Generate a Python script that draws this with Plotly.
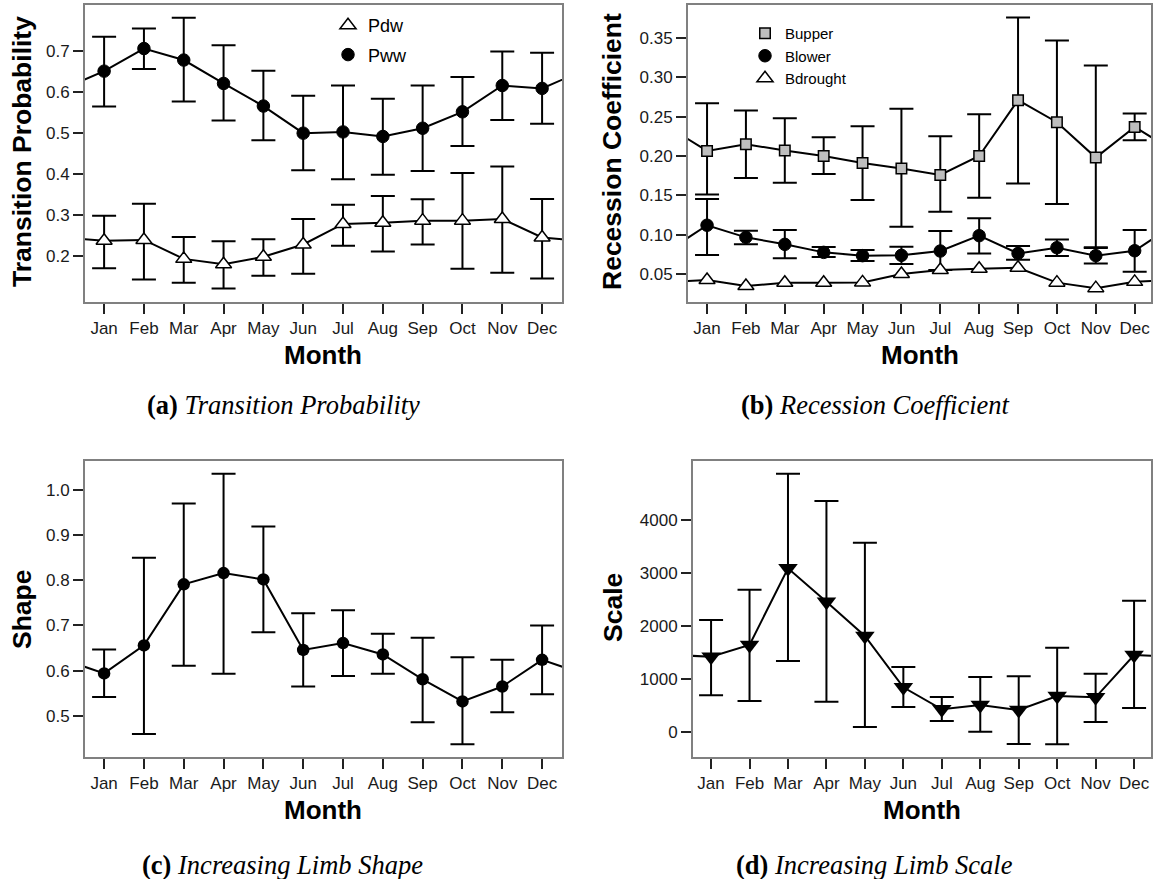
import plotly.graph_objects as go

W, H = 1155, 879

months = ["Jan", "Feb", "Mar", "Apr", "May", "Jun", "Jul", "Aug", "Sep", "Oct", "Nov", "Dec"]
month_num = list(range(1, 13))

# (a) Transition probability
pww = [0.650, 0.705, 0.677, 0.620, 0.565, 0.499, 0.502, 0.491, 0.511, 0.551, 0.615, 0.608]
pww_hi = [0.734, 0.754, 0.780, 0.713, 0.651, 0.590, 0.615, 0.583, 0.615, 0.636, 0.698, 0.695]
pww_lo = [0.564, 0.655, 0.576, 0.530, 0.482, 0.409, 0.387, 0.398, 0.407, 0.468, 0.531, 0.522]
pdw = [0.237, 0.239, 0.193, 0.180, 0.198, 0.228, 0.278, 0.281, 0.286, 0.286, 0.290, 0.245]
pdw_hi = [0.298, 0.327, 0.246, 0.236, 0.241, 0.290, 0.325, 0.346, 0.338, 0.402, 0.418, 0.339]
pdw_lo = [0.170, 0.143, 0.135, 0.121, 0.152, 0.157, 0.225, 0.211, 0.228, 0.169, 0.159, 0.145]

# (b) Recession coefficient
bupper = [0.2065, 0.215, 0.207, 0.200, 0.191, 0.184, 0.176, 0.200, 0.271, 0.243, 0.198, 0.237]
bupper_hi = [0.267, 0.258, 0.248, 0.224, 0.238, 0.260, 0.225, 0.253, 0.376, 0.347, 0.315, 0.254]
bupper_lo = [0.151, 0.172, 0.166, 0.177, 0.144, 0.110, 0.129, 0.147, 0.165, 0.139, 0.084, 0.220]
blower = [0.112, 0.0966, 0.0877, 0.0775, 0.0733, 0.0737, 0.0792, 0.0987, 0.0762, 0.0834, 0.0733, 0.0796]
blower_hi = [0.1454, 0.105, 0.106, 0.0843, 0.0805, 0.0847, 0.1047, 0.121, 0.0856, 0.094, 0.083, 0.106]
blower_lo = [0.074, 0.0877, 0.070, 0.0716, 0.0665, 0.0627, 0.055, 0.0762, 0.0681, 0.0729, 0.0635, 0.0529]
bdrought = [0.0423, 0.0347, 0.0389, 0.0389, 0.0393, 0.050, 0.055, 0.0567, 0.058, 0.039, 0.032, 0.040]

# (c) Increasing limb shape
shape = [0.594, 0.656, 0.791, 0.816, 0.802, 0.646, 0.661, 0.636, 0.581, 0.532, 0.565, 0.624]
shape_hi = [0.647, 0.850, 0.970, 1.036, 0.919, 0.727, 0.734, 0.682, 0.673, 0.630, 0.624, 0.700]
shape_lo = [0.542, 0.460, 0.611, 0.593, 0.685, 0.565, 0.588, 0.593, 0.486, 0.437, 0.508, 0.548]

# (d) Increasing limb scale
scale = [1421, 1642, 3088, 2459, 1811, 843, 428, 509, 415, 679, 654, 1453]
scale_hi = [2113, 2686, 4874, 4358, 3572, 1226, 660, 1038, 1050, 1591, 1100, 2478]
scale_lo = [692, 585, 1340, 572, 94, 472, 208, 6, -226, -233, 189, 453]

FONT = "Liberation Sans, Arial, Helvetica, sans-serif"
SERIF = "Liberation Serif, Times New Roman, serif"


def wrap_x():
    return [0] + month_num + [13]


def wrap_y(v):
    return [v[-1]] + list(v) + [v[0]]


def err(v, hi, lo):
    return dict(type="data", symmetric=False,
                array=[h - c for h, c in zip(hi, v)],
                arrayminus=[c - l for c, l in zip(v, lo)],
                color="black", thickness=2, width=12)


fig = go.Figure()

line_style = dict(color="black", width=2)


def add_line(v, xa, ya):
    fig.add_trace(go.Scatter(x=wrap_x(), y=wrap_y(v), mode="lines", line=line_style,
                             showlegend=False, hoverinfo="skip", xaxis=xa, yaxis=ya))


# Panel a
add_line(pww, "x", "y")
add_line(pdw, "x", "y")
fig.add_trace(go.Scatter(x=month_num, y=pdw, mode="markers", name="Pdw",
                         error_y=err(pdw, pdw_hi, pdw_lo),
                         marker=dict(symbol="triangle-up", size=14, color="white",
                                     line=dict(color="black", width=1.5)),
                         xaxis="x", yaxis="y", legend="legend", legendgroup="a1"))
fig.add_trace(go.Scatter(x=month_num, y=pww, mode="markers", name="Pww",
                         error_y=err(pww, pww_hi, pww_lo),
                         marker=dict(symbol="circle", size=12.5, color="black",
                                     line=dict(color="black", width=1)),
                         xaxis="x", yaxis="y", legend="legend", legendgroup="a2"))

# Panel b
add_line(bupper, "x2", "y2")
add_line(blower, "x2", "y2")
add_line(bdrought, "x2", "y2")
fig.add_trace(go.Scatter(x=month_num, y=bupper, mode="markers", name="Bupper",
                         error_y=err(bupper, bupper_hi, bupper_lo),
                         marker=dict(symbol="square", size=10.5, color="#bebebe",
                                     line=dict(color="black", width=1.5)),
                         xaxis="x2", yaxis="y2", legend="legend2"))
fig.add_trace(go.Scatter(x=month_num, y=blower, mode="markers", name="Blower",
                         error_y=err(blower, blower_hi, blower_lo),
                         marker=dict(symbol="circle", size=12.5, color="black",
                                     line=dict(color="black", width=1)),
                         xaxis="x2", yaxis="y2", legend="legend2"))
fig.add_trace(go.Scatter(x=month_num, y=bdrought, mode="markers", name="Bdrought",
                         marker=dict(symbol="triangle-up", size=14, color="white",
                                     line=dict(color="black", width=1.5)),
                         xaxis="x2", yaxis="y2", legend="legend2"))

# Panel c
add_line(shape, "x3", "y3")
fig.add_trace(go.Scatter(x=month_num, y=shape, mode="markers", showlegend=False,
                         error_y=err(shape, shape_hi, shape_lo),
                         marker=dict(symbol="circle", size=12.5, color="black"),
                         xaxis="x3", yaxis="y3"))

# Panel d
add_line(scale, "x4", "y4")
fig.add_trace(go.Scatter(x=month_num, y=scale, mode="markers", showlegend=False,
                         error_y=err(scale, scale_hi, scale_lo),
                         marker=dict(symbol="triangle-down", size=17, color="black"),
                         xaxis="x4", yaxis="y4"))


def px_x(p):
    return p / W


def px_y(p):
    return 1 - p / H


ax_common = dict(showline=True, linecolor="#808080", linewidth=2, mirror=True,
                 ticks="outside", ticklen=10, tickwidth=1.5, tickcolor="#222222",
                 showgrid=False, zeroline=False,
                 tickfont=dict(family=FONT, size=17, color="#1a1a1a"))

xcommon = dict(ax_common, tickmode="array", tickvals=month_num, ticktext=months)

top = [px_y(302), px_y(5)]
bot = [px_y(757), px_y(461)]

fig.update_layout(
    width=W, height=H, margin=dict(l=0, r=0, t=0, b=0),
    paper_bgcolor="white", plot_bgcolor="white",
    xaxis=dict(xcommon, domain=[px_x(85), px_x(562)], range=[0.52, 12.5], anchor="y"),
    yaxis=dict(ax_common, domain=top, range=[0.088, 0.811], anchor="x",
               tickvals=[0.2, 0.3, 0.4, 0.5, 0.6, 0.7], tickformat=".1f"),
    xaxis2=dict(xcommon, domain=[px_x(688), px_x(1151)], range=[0.51, 12.42], anchor="y2"),
    yaxis2=dict(ax_common, domain=top, range=[0.0144, 0.392], anchor="x2",
                tickvals=[0.05, 0.10, 0.15, 0.20, 0.25, 0.30, 0.35], tickformat=".2f"),
    xaxis3=dict(xcommon, domain=[px_x(85), px_x(562)], range=[0.52, 12.5], anchor="y3"),
    yaxis3=dict(ax_common, domain=bot, range=[0.409, 1.064], anchor="x3",
                tickvals=[0.5, 0.6, 0.7, 0.8, 0.9, 1.0], tickformat=".1f"),
    xaxis4=dict(xcommon, domain=[px_x(693), px_x(1151)], range=[0.53, 12.44], anchor="y4"),
    yaxis4=dict(ax_common, domain=bot, range=[-472, 5113], anchor="x4",
                tickvals=[0, 1000, 2000, 3000, 4000], tickformat="d"),
    legend=dict(x=px_x(328), y=px_y(7), xanchor="left", yanchor="top",
                bgcolor="rgba(0,0,0,0)", font=dict(family=FONT, size=18, color="black"),
                tracegroupgap=3),
    legend2=dict(x=px_x(745), y=px_y(17), xanchor="left", yanchor="top",
                 bgcolor="rgba(0,0,0,0)", font=dict(family=FONT, size=15, color="black"),
                 tracegroupgap=0),
)

annotations = []


def ann(text, x, y, size, angle=0, family=FONT):
    annotations.append(dict(text=text, x=px_x(x), y=px_y(y), xref="paper", yref="paper",
                            showarrow=False, xanchor="center", yanchor="middle",
                            textangle=angle, font=dict(family=family, size=size, color="black")))


ann("<b>Transition Probability</b>", 22, 152, 26.5, -90)
ann("<b>Recession Coefficient</b>", 612, 152, 26.5, -90)
ann("<b>Shape</b>", 22, 609, 26.5, -90)
ann("<b>Scale</b>", 613, 608, 26.5, -90)
ann("<b>Month</b>", 323, 355, 26)
ann("<b>Month</b>", 920, 355, 26)
ann("<b>Month</b>", 323, 810, 26)
ann("<b>Month</b>", 922, 810, 26)
ann("<b>(a)</b> <i>Transition Probability</i>", 283, 405, 26.5, family=SERIF)
ann("<b>(b)</b> <i>Recession Coefficient</i>", 875, 405, 26.5, family=SERIF)
ann("<b>(c)</b> <i>Increasing Limb Shape</i>", 282, 865, 26.5, family=SERIF)
ann("<b>(d)</b> <i>Increasing Limb Scale</i>", 874, 865, 26.5, family=SERIF)

fig.update_layout(annotations=annotations)

fig.write_html("out.html", config={"displayModeBar": False},
               post_script="document.body.style.margin='0';document.body.style.overflow='hidden';")
